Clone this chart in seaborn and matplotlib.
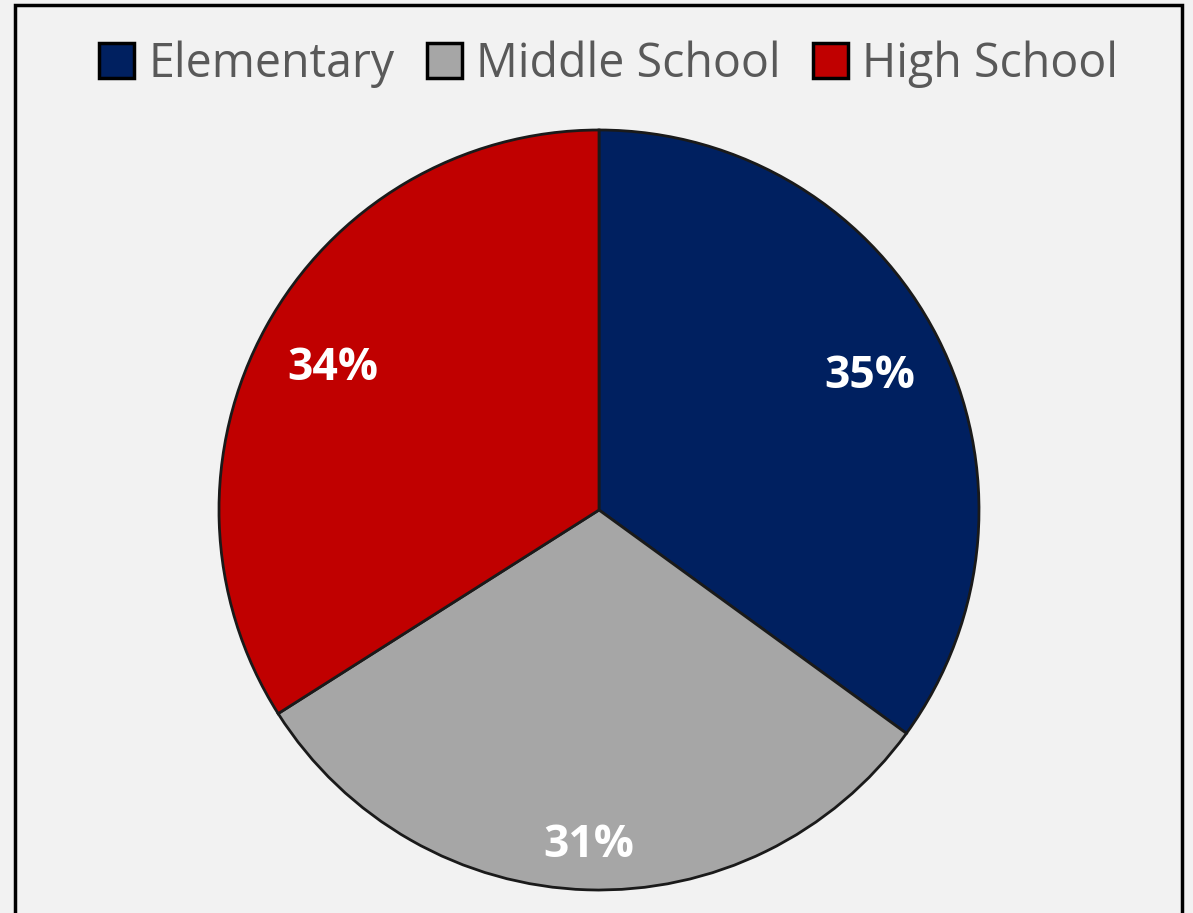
import matplotlib
matplotlib.use("Agg")
import matplotlib.pyplot as plt
import seaborn as sns
import numpy as np
from matplotlib.patches import Rectangle

categories = ["Elementary", "Middle School", "High School"]
values = [35, 31, 34]
colors = ["#002060", "#A6A6A6", "#C00000"]
label_dist = [0.80, 0.87, 0.80]

sns.set_theme(style="white")
plt.rcParams["font.family"] = ["Open Sans", "DejaVu Sans"]

W, H = 1193, 913
fig = plt.figure(figsize=(W / 100, H / 100), dpi=100, facecolor="#F2F2F2")
ax = fig.add_axes([0, 0, 1, 1])
ax.set_aspect("equal")
ax.set_facecolor("#F2F2F2")

cx, cy, R = 599, H - 510, 380
wedges, _ = ax.pie(values, colors=colors, startangle=90, counterclock=False,
                   center=(cx, cy), radius=R, frame=True,
                   wedgeprops=dict(edgecolor="#1a1a1a", linewidth=2))
ax.set_xlim(0, W)
ax.set_ylim(0, H)
ax.axis("off")

total = sum(values)
for w, v, d in zip(wedges, values, label_dist):
    ang = np.deg2rad((w.theta1 + w.theta2) / 2)
    x = cx + d * R * np.cos(ang)
    y = cy + d * R * np.sin(ang) - 5
    ax.text(x, y, f"{round(100 * v / total)}%", color="white", fontsize=32,
            fontweight="bold", ha="center", va="center")

leg = fig.legend(wedges, categories, loc="center", bbox_to_anchor=(0.51, 1 - 64 / H),
                 ncol=3, frameon=False, fontsize=33.5, handlelength=0.75, handleheight=0.75,
                 handletextpad=0.3, columnspacing=0.7, labelcolor="#595959")
for h in leg.legend_handles:
    h.set_edgecolor("black")
    h.set_linewidth(2.5)

fig.patches.append(Rectangle((15 / W, -0.05), (1182 - 15) / W, 1.05 - 5 / H,
                             transform=fig.transFigure, fill=False,
                             edgecolor="black", linewidth=2.5))

fig.savefig("out.png", dpi=100, facecolor=fig.get_facecolor())
